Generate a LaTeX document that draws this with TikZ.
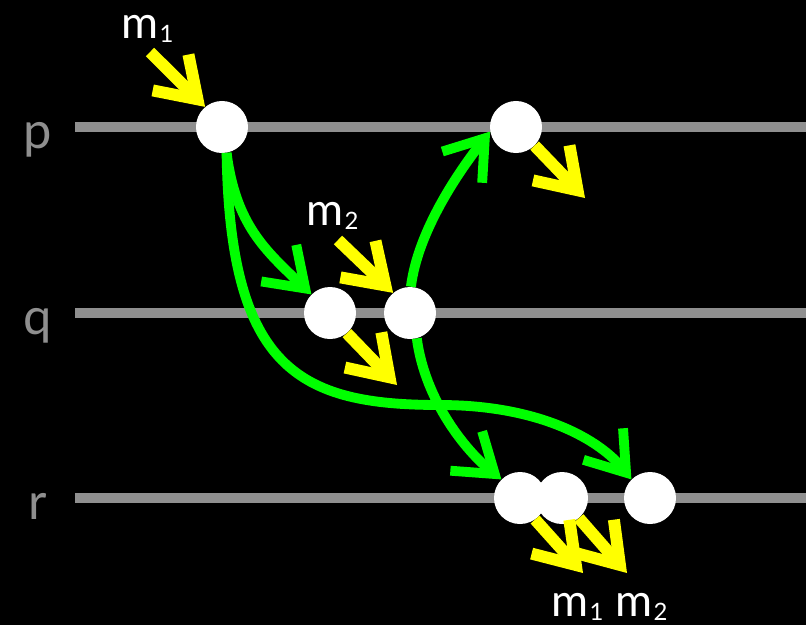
\documentclass[tikz,border=0pt]{standalone}
\usepackage{fontspec}
\setmainfont{Lato}
\usepackage{tikz}
\usetikzlibrary{
  arrows.meta % Barb tips on message and causality arrows
}
\definecolor{linegray}{HTML}{8F8F8F}
\definecolor{msgyellow}{HTML}{FFFF00}
\definecolor{causegreen}{HTML}{00FF00}
\newcommand{\msgname}[1]{m\kern1pt\raisebox{-3.5pt}{\fontsize{17}{17}\selectfont #1}}

\begin{document}
\begin{tikzpicture}[x=0.025cm, y=-0.025cm,
    event/.style={circle, fill=white, minimum size=1.3cm, inner sep=0pt},
    proc/.style={text=linegray, font=\fontsize{36}{36}\selectfont, anchor=base, inner sep=0pt},
    msglabel/.style={text=white, font=\fontsize{32}{32}\selectfont, anchor=base west, inner sep=0pt},
    timeline/.style={draw=linegray, line width=7pt},
    msg/.style={draw=msgyellow, line width=8.5pt, -{Straight Barb[length=27pt, width=36pt]}},
    cause/.style={draw=causegreen, line width=7pt, -{Straight Barb[length=26pt, width=36pt]}}]
      \fill[black] (0,0) rectangle (806,625);
      \useasboundingbox (0,0) rectangle (806,625);

      \node[proc] (p) at (38,148) {p};
      \node[proc] (q) at (38,334) {q};
      \node[proc] (r) at (38,519) {r};
      \draw[timeline] (75,127) -- (806,127);
      \draw[timeline] (75,313) -- (806,313);
      \draw[timeline] (75,498) -- (806,498);

      \node[event] (p1) at (222,127) {};
      \node[event] (p2) at (516,127) {};
      \node[event] (q1) at (330,313) {};
      \node[event] (q2) at (410,313) {};
      \node[event] (r1) at (520,498) {};
      \node[event] (r2) at (562,498) {};
      \node[event] (r3) at (650,498) {};

      \draw[cause] (p1.-80) .. controls (236,225) and (265,250) .. (q1.135);
      \draw[cause] (p1.-80) .. controls (230,370) and (300,405) .. (440,405)
                            .. controls (540,405) and (600,440) .. (r3.135);
      \draw[cause] (q2.88) .. controls (418,230) and (460,170) .. (p2.190);
      \draw[cause] (q2.-75) .. controls (425,400) and (465,450) .. (r1.135);

      \coordinate (m1in) at (150,52);
      \coordinate (m2in) at (338,240);
      \coordinate (p2out) at (585,198);
      \coordinate (q1out) at (397,385);
      \coordinate (r1out) at (583,573);
      \coordinate (r2out) at (627,573);
      \draw[msg] (m1in) -- (p1.130);
      \draw[msg] (m2in) -- (q2.130);
      \draw[msg] (p2.-45) -- (p2out);
      \draw[msg] (q1.-50) -- (q1out);
      \draw[msg] (r1.-55) -- (r1out);
      \draw[msg] (r2.-50) -- (r2out);

      \node[msglabel] (m1) at (121,38) {\msgname{1}};
      \node[msglabel] (m2) at (306,225) {\msgname{2}};
      \node[msglabel] (delivered) at (551,616) {\msgname{1} \msgname{2}};
  \end{tikzpicture}
\end{document}
